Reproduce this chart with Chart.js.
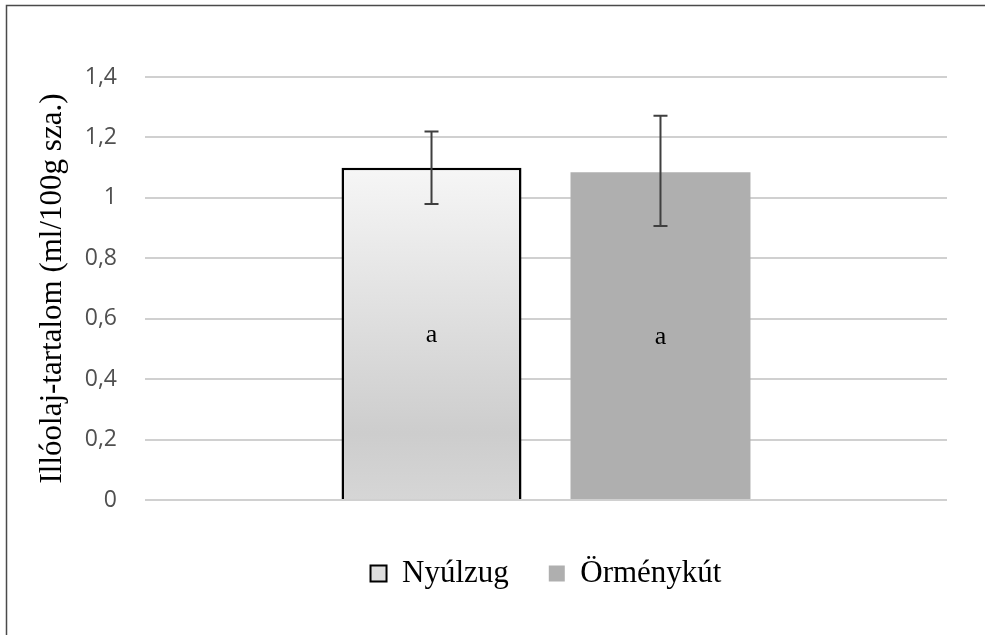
<!DOCTYPE html>
<html>
<head>
<meta charset="utf-8">
<script src="https://cdn.jsdelivr.net/npm/chart.js@4"></script>
<style>
  html, body { margin: 0; padding: 0; background: #fff; }
  #wrap { width: 985px; height: 635px; }
</style>
</head>
<body>
<div id="wrap"><canvas id="myChart" width="985" height="635"></canvas></div>
<script>
const seriesNames = ['Nyúlzug', 'Örménykút'];
const values = [1.10, 1.085];
const errLow = [0.98, 0.907];
const errHigh = [1.22, 1.272];
const letters = ['a', 'a'];
const yMin = 0, yMax = 1.4, yStep = 0.2;

function nyulzugFill(context) {
    const chart = context.chart;
    const area = chart.chartArea;
    if (!area || !chart.scales.y) return '#e4e4e4';
    const top = chart.scales.y.getPixelForValue(values[0]);
    const g = chart.ctx.createLinearGradient(0, top, 0, area.bottom);
    g.addColorStop(0, '#f6f6f6');
    g.addColorStop(0.8, '#cdcdcd');
    g.addColorStop(1, '#d6d6d6');
    return g;
}

// keret a kép bal és felső szélén
const framePlugin = {
    id: 'frame',
    beforeDraw(chart) {
        const ctx = chart.ctx;
        ctx.save();
        ctx.strokeStyle = '#4a4a4a';
        ctx.lineWidth = 1.5;
        ctx.beginPath();
        ctx.moveTo(6.5, 640);
        ctx.lineTo(6.5, 5.5);
        ctx.lineTo(990, 5.5);
        ctx.stroke();
        ctx.restore();
    }
};

// hibasávok és betűjelek
const errorPlugin = {
    id: 'errorBars',
    afterDatasetsDraw(chart) {
        const ctx = chart.ctx;
        const yS = chart.scales.y;
        ctx.save();
        chart.data.datasets.forEach(function (ds, i) {
            const meta = chart.getDatasetMeta(i);
            meta.data.forEach(function (bar) {
                const x = bar.x;
                const yh = yS.getPixelForValue(errHigh[i]);
                const yl = yS.getPixelForValue(errLow[i]);
                ctx.strokeStyle = '#3f3f3f';
                ctx.lineWidth = 2;
                ctx.beginPath();
                ctx.moveTo(x, yh); ctx.lineTo(x, yl);
                ctx.moveTo(x - 7, yh); ctx.lineTo(x + 7, yh);
                ctx.moveTo(x - 7, yl); ctx.lineTo(x + 7, yl);
                ctx.stroke();

                ctx.fillStyle = '#000';
                ctx.font = '26px "Liberation Serif"';
                ctx.textAlign = 'center';
                ctx.textBaseline = 'middle';
                ctx.fillText(letters[i], x, (bar.y + bar.base) / 2 + 2);
            });
        });
        ctx.restore();
    }
};

var ctx = document.getElementById('myChart').getContext('2d');
var mychart = new Chart(ctx, {
    type: 'bar',
    data: {
        labels: [''],
        datasets: [{
            label: seriesNames[0],
            data: [values[0]],
            backgroundColor: nyulzugFill,
            borderColor: '#000000',
            borderWidth: 2.5,
            barPercentage: 0.786,
            categoryPercentage: 0.571
        }, {
            label: seriesNames[1],
            data: [values[1]],
            backgroundColor: '#afafaf',
            borderWidth: 0,
            barPercentage: 0.786,
            categoryPercentage: 0.571
        }]
    },
    options: {
        responsive: false,
        animation: false,
        layout: {
            padding: { top: 77, right: 38, bottom: 36, left: 0 }
        },
        scales: {
            x: {
                grid: { display: false },
                border: { display: false },
                ticks: { display: false },
                afterFit: function (s) { s.height = 18; }
            },
            y: {
                min: yMin,
                max: yMax,
                afterFit: function (s) { s.width = 145; },
                grid: { color: '#d0d0d0', lineWidth: 2, drawTicks: false },
                border: { display: false },
                ticks: {
                    stepSize: yStep,
                    padding: 28,
                    color: '#505050',
                    font: { family: 'Open Sans', size: 23 },
                    callback: function (v) {
                        return String(Math.round(v * 10) / 10).replace('.', ',');
                    }
                },
                title: {
                    display: true,
                    text: 'Illóolaj-tartalom (ml/100g sza.)',
                    color: '#000',
                    font: { family: 'Liberation Serif', size: 31, lineHeight: 1.2 },
                    padding: { top: 34, bottom: 0 }
                }
            }
        },
        plugins: {
            tooltip: { enabled: false },
            legend: {
                position: 'bottom',
                fullSize: false,
                labels: {
                    color: '#000',
                    font: { family: 'Liberation Serif', size: 31 },
                    boxWidth: 16,
                    boxHeight: 16,
                    padding: 40,
                    generateLabels: function () {
                        return [{
                            text: seriesNames[0],
                            fillStyle: '#dedede',
                            strokeStyle: '#000',
                            lineWidth: 2,
                            datasetIndex: 0
                        }, {
                            text: seriesNames[1],
                            fillStyle: '#afafaf',
                            strokeStyle: '#afafaf',
                            lineWidth: 0,
                            datasetIndex: 1
                        }];
                    }
                }
            }
        }
    },
    plugins: [framePlugin, errorPlugin]
});
</script>
</body>
</html>
